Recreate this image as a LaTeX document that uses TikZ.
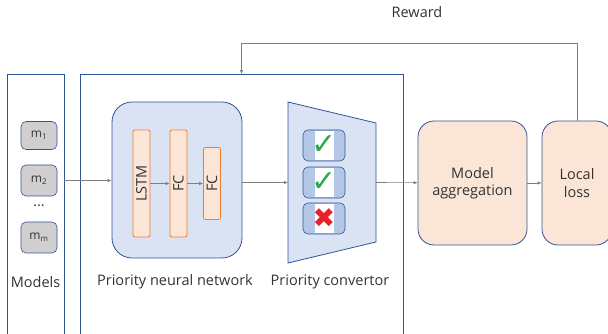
\documentclass[tikz,border=0pt]{standalone}
\usepackage{fontspec}
\setmainfont{Open Sans}
\newfontfamily\symfont{DejaVu Sans}
\usetikzlibrary{arrows.meta,positioning,calc}

\definecolor{frameblue}{HTML}{2F5597}
\definecolor{paleblue}{HTML}{DAE3F3}
\definecolor{midblue}{HTML}{B4C7E7}
\definecolor{paleorange}{HTML}{FBE5D6}
\definecolor{deeporange}{HTML}{ED7D31}
\definecolor{modelgray}{HTML}{D0CECE}
\definecolor{linegray}{HTML}{7F7F7F}
\definecolor{tickgreen}{HTML}{2EA84A}
\definecolor{crossred}{HTML}{E8202A}

\begin{document}
\begin{tikzpicture}[x=1pt, y=1pt,
  lbl/.style={font=\fontsize{14.5}{17}\selectfont, text=black!80},
  frame/.style={draw=frameblue, line width=0.8pt, minimum height=270pt, inner sep=0pt},
  mbox/.style={draw=frameblue, fill=modelgray, rounded corners=5pt, minimum width=36pt,
               minimum height=30pt, line width=0.6pt, font=\fontsize{12}{14}\selectfont, text=black!80},
  netbox/.style={draw=frameblue, fill=paleblue, rounded corners=20pt, line width=0.8pt,
                 minimum width=130pt, minimum height=156pt},
  layer/.style={draw=deeporange, fill=paleorange, rounded corners=2pt, line width=0.8pt,
                rotate=90, minimum height=17pt, inner sep=0pt, font=\fontsize{14.5}{17}\selectfont, text=black!80},
  slot/.style={draw=frameblue, fill=midblue, rounded corners=5pt, line width=0.6pt,
               minimum width=42pt, minimum height=31pt},
  tickbg/.style={fill=white, minimum width=19pt, minimum height=29pt, inner sep=0pt},
  tickmark/.style={inner sep=0pt, font=\symfont\fontsize{30}{30}\selectfont},
  procbox/.style={draw=frameblue, fill=paleorange, rounded corners=16pt, line width=0.8pt,
                  minimum height=124pt, align=center, font=\fontsize{14.5}{17.5}\selectfont, text=black!80},
  arr/.style={-{Latex[length=4pt, width=3.5pt]}, linegray, line width=0.6pt}
]
  \clip (0,0) rectangle (608,334);

  % open-bottom frames
  \node[frame, minimum width=57pt] (models) at (35.5,124.5) {};
  \node[frame, minimum width=323pt] (outer) at (241.5,124.5) {};

  % local models
  \node[mbox, minimum height=28pt] (m1) at (39,198.5) {m\textsubscript{1}};
  \node[mbox, minimum height=31pt] (m2) at (39,153.5) {m\textsubscript{2}};
  \node[lbl] (dots) at (39,128) {\dots};
  \node[mbox, minimum height=31pt] (mm) at (39,96.5) {m\textsubscript{m}};
  \node[lbl] (modlbl) at (35.5,52) {Models};

  % priority neural network
  \node[netbox] (pnn) at (177,154) {};
  \node[layer, minimum width=107pt] (lstm) at (141.5,150.5) {LSTM};
  \node[layer, minimum width=107pt] (fc1) at (178.5,150.5) {FC};
  \node[layer, minimum width=72pt] (fc2) at (212,150.5) {FC};
  \node[lbl] (pnnlbl) at (175,52) {Priority neural network};

  % priority convertor
  \coordinate (convin) at (288,151.5);
  \coordinate (convout) at (376,151.5);
  \draw[frameblue, fill=paleblue, line width=0.8pt]
    (288,232) -- (376,211) -- (376,92) -- (288,71) -- cycle;
  \node[slot] (s1) at (324,188.5) {};
  \node[slot] (s2) at (324,151.5) {};
  \node[slot] (s3) at (324,115.5) {};
  \foreach \s in {s1,s2,s3}
    \node[tickbg] (bg\s) at (\s) {};
  \node[tickmark, text=tickgreen] (t1) at (s1) {✓};
  \node[tickmark, text=tickgreen] (t2) at (s2) {✓};
  \node[tickmark, text=crossred, font=\symfont\fontsize{27}{27}\selectfont] (t3) at (s3) {✖};
  \node[lbl] (convlbl) at (330,52) {Priority convertor};

  % aggregation and loss
  \node[procbox, minimum width=109pt] (agg) at (472.5,151) {Model\\aggregation};
  \node[procbox, minimum width=70pt] (loss) at (577,151) {Local\\loss};
  \node[lbl] (reward) at (417,322) {Reward};

  \draw[arr] (m2.east -| models.east) -- (pnn.west |- m2.east);
  \draw[arr] (lstm) -- (fc1);
  \draw[arr] (fc1) -- (fc2);
  \draw[arr] (pnn.east |- convin) -- (convin);
  \draw[arr] (convout) -- (agg);
  \draw[arr] (agg) -- (loss);
  \draw[arr] (loss.north) |- ([yshift=31pt]outer.north) -- (outer.north);
\end{tikzpicture}
\end{document}
